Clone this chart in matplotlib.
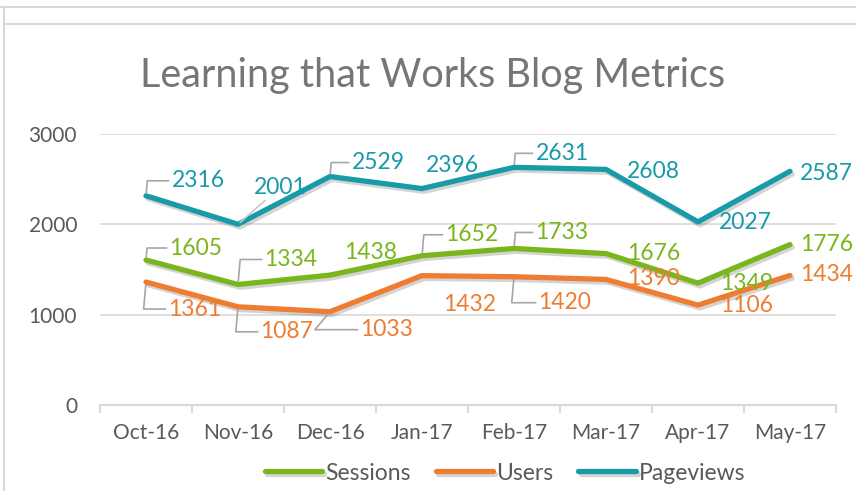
import matplotlib
matplotlib.use("Agg")
import matplotlib.pyplot as plt
import matplotlib.patheffects as pe
from matplotlib.lines import Line2D

months = ["Oct-16", "Nov-16", "Dec-16", "Jan-17", "Feb-17", "Mar-17", "Apr-17", "May-17"]
sessions = [1605, 1334, 1438, 1652, 1733, 1676, 1349, 1776]
users = [1361, 1087, 1033, 1432, 1420, 1390, 1106, 1434]
pageviews = [2316, 2001, 2529, 2396, 2631, 2608, 2027, 2587]

# label offsets in pixels (dx, dy) and leader style per point (None = no leader)
off_pv = [(52, 15), (42, 37), (48, 14), (30, 23), (48, 14), (47, -2), (47, -1), (36, -2)]
lead_pv = ["angle", "line", "angle", None, "angle", None, None, None]
off_s = [(50, 12), (53, 25), (41, 23), (50, 21), (48, 16), (48, 0), (49, 0), (37, 0)]
lead_s = ["angle", "angle", None, "angle", "angle", None, None, None]
off_u = [(49, -27), (49, -25), (57, -18), (48, -29), (51, -26), (48, 1), (49, 0), (37, 1)]
lead_u = ["angle", "angle", "diag", None, "angle", None, None, None]

green = "#7ab51d"
orange = "#ee7d31"
teal = "#189aa8"
grid_c = "#d9d9d9"
txt_c = "#595959"

plt.rcParams["font.family"] = ["Lato", "DejaVu Sans"]

fig = plt.figure(figsize=(8.56, 4.91), dpi=100)
ax = fig.add_axes([100 / 856, 1 - 405 / 491, 736 / 856, 271 / 491])

# sheet borders
fig.add_artist(Line2D([0, 1], [1 - 7 / 491] * 2, color=grid_c, lw=1.5))
fig.add_artist(Line2D([4 / 856, 1], [1 - 24 / 491] * 2, color=grid_c, lw=1.5))
fig.add_artist(Line2D([4 / 856] * 2, [0, 1 - 7 / 491], color=grid_c, lw=1.5))

x = list(range(len(months)))
shadow = [pe.SimpleLineShadow(offset=(1.5, -2), alpha=0.25, shadow_color="#555555"), pe.Normal()]

for vals, col, name, offs, leads in [
    (sessions, green, "Sessions", off_s, lead_s),
    (users, orange, "Users", off_u, lead_u),
    (pageviews, teal, "Pageviews", off_pv, lead_pv),
]:
    ax.plot(x, vals, color=col, lw=3.8, solid_capstyle="round", solid_joinstyle="round",
            label=name, path_effects=shadow, zorder=3)
    for xi, v, (dx, dy), ld in zip(x, vals, offs, leads):
        kw = {}
        if ld == "angle":
            kw["arrowprops"] = dict(arrowstyle="-", color="#a6a6a6", lw=1.2,
                                    connectionstyle="angle,angleA=0,angleB=85,rad=0",
                                    shrinkA=0, shrinkB=2)
        elif ld == "diag":
            kw["arrowprops"] = dict(arrowstyle="-", color="#a6a6a6", lw=1.2,
                                    connectionstyle="angle,angleA=0,angleB=50,rad=0",
                                    shrinkA=0, shrinkB=2)
        elif ld == "line":
            kw["arrowprops"] = dict(arrowstyle="-", color="#c8c8c8", lw=1.2, shrinkA=0, shrinkB=2)
        ax.annotate(str(v), (xi, v), xytext=(dx, dy), textcoords="offset pixels",
                    ha="center", va="center", color=col, fontsize=16.5, zorder=4, **kw)

ax.set_xlim(-0.5, 7.5)
ax.set_ylim(0, 3000)
ax.set_yticks([0, 1000, 2000, 3000])
ax.set_xticks(x)
ax.set_xticklabels(months)
ax.set_xticks([i - 0.5 for i in range(9)], minor=True)
ax.grid(axis="y", color=grid_c, lw=1.2, zorder=0)
for s in ["top", "right", "left"]:
    ax.spines[s].set_visible(False)
ax.spines["bottom"].set_color(grid_c)
ax.spines["bottom"].set_linewidth(1.5)
ax.tick_params(axis="x", which="major", length=0, pad=13, labelsize=15, labelcolor=txt_c)
ax.tick_params(axis="x", which="minor", length=6, width=1.5, color=grid_c)
ax.tick_params(axis="y", length=0, pad=16.5, labelsize=15, labelcolor=txt_c)

fig.text(0.505, 1 - 75 / 491, "Learning that Works Blog Metrics", ha="center", va="center",
         fontsize=28.5, color="#767676")

fig.legend(loc="center", bbox_to_anchor=(0.59, 1 - 473 / 491), ncol=3, frameon=False,
           fontsize=16.5, labelcolor=txt_c, handlelength=2.5, handletextpad=0.13,
           columnspacing=1.1)

fig.savefig("out.png", dpi=100)
